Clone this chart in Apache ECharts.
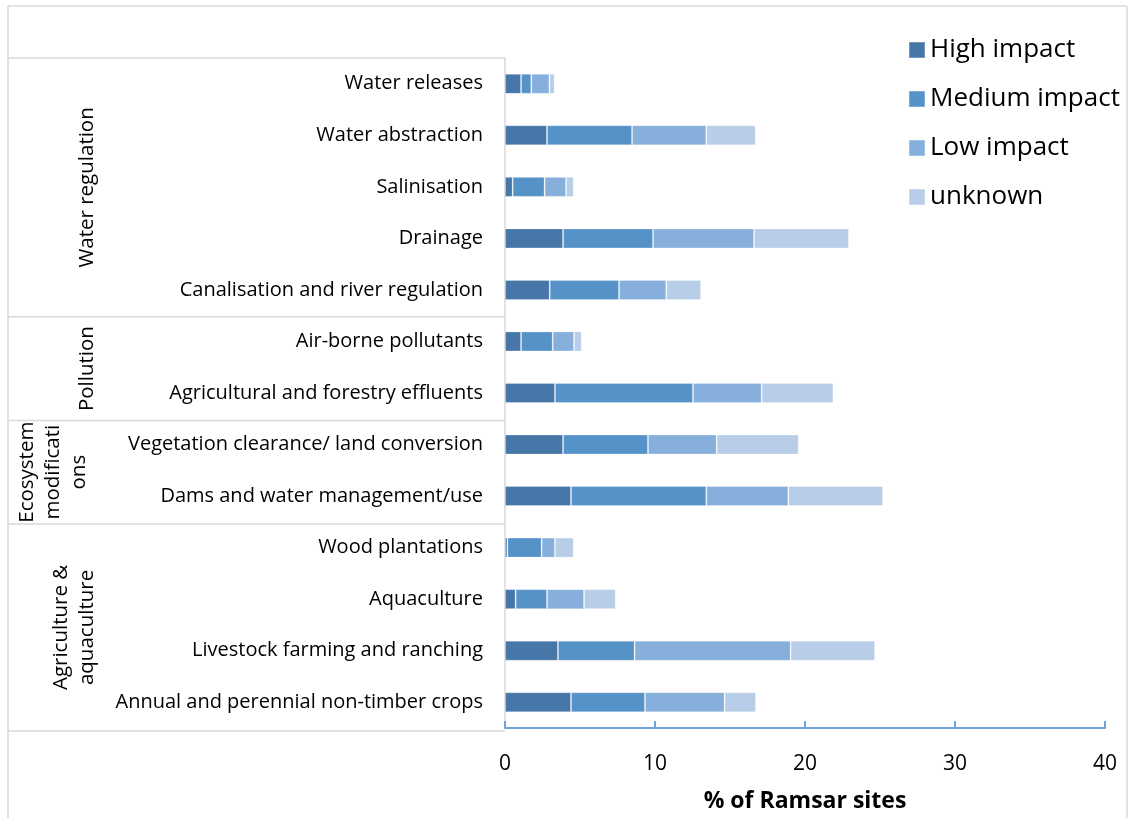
<!DOCTYPE html>
<html>
<head>
<meta charset="utf-8">
<script src="https://cdn.jsdelivr.net/npm/echarts@6/dist/echarts.min.js"></script>
<style>
html,body{margin:0;padding:0;background:#fff;}
#chart{width:1128px;height:818px;}
</style>
</head>
<body>
<div id="chart"></div>
<script>
// Categories, top to bottom
const categories = [
  'Water releases',
  'Water abstraction',
  'Salinisation',
  'Drainage',
  'Canalisation and river regulation',
  'Air-borne pollutants',
  'Agricultural and forestry effluents',
  'Vegetation clearance/ land conversion',
  'Dams and water management/use',
  'Wood plantations',
  'Aquaculture',
  'Livestock farming and ranching',
  'Annual and perennial non-timber crops'
];
const seriesNames = ['High impact', 'Medium impact', 'Low impact', 'unknown'];
const highImpact   = [1.07, 2.8, 0.51, 3.87, 2.98, 1.07, 3.33, 3.87, 4.4, 0.16, 0.71, 3.53, 4.4];
const mediumImpact = [0.68, 5.67, 2.13, 6.0, 4.62, 2.11, 9.2, 5.66, 9.02, 2.28, 2.09, 5.11, 4.93];
const lowImpact    = [1.21, 4.95, 1.43, 6.73, 3.15, 1.42, 4.58, 4.58, 5.47, 0.89, 2.47, 10.4, 5.31];
const unknownImpact= [0.35, 3.29, 0.51, 6.33, 2.32, 0.51, 4.78, 5.47, 6.31, 1.25, 2.11, 5.63, 2.09];
// Groups (top to bottom) with number of categories each
const groupNames = ['Water regulation', 'Pollution', 'Ecosystem\nmodificati\nons', 'Agriculture &\naquaculture'];
const groupSizes = [5, 2, 2, 4];
const xTicks = [0, 10, 20, 30, 40];
const xAxisTitle = '% of Ramsar sites';

const colors = ['#4677a8', '#5592c8', '#86afdc', '#b8cde8'];
const FONT = '"Open Sans", "Noto Sans", sans-serif';

const chart = echarts.init(document.getElementById('chart'));
const gridTop = 58, gridBottom = 87, gridLeft = 505, gridRight = 23;
const H = 818, plotH = H - gridTop - gridBottom;
const band = plotH / categories.length;

const seriesData = [highImpact, mediumImpact, lowImpact, unknownImpact];
const series = seriesNames.map((n, i) => ({
  name: n,
  type: 'bar',
  stack: 'total',
  barWidth: 20,
  itemStyle: { color: colors[i], borderColor: 'rgba(255,255,255,0.25)', borderWidth: 1 },
  data: seriesData[i]
}));

// table lines and group labels
const graphics = [];
const lineStyle = { stroke: '#d9d9d9', lineWidth: 1.5 };
graphics.push({ type: 'line', shape: { x1: 8, y1: 6, x2: 1127, y2: 6 }, style: lineStyle, silent: true });
graphics.push({ type: 'line', shape: { x1: 8, y1: 6, x2: 8, y2: 818 }, style: lineStyle, silent: true });
graphics.push({ type: 'line', shape: { x1: 1127, y1: 6, x2: 1127, y2: 818 }, style: lineStyle, silent: true });
graphics.push({ type: 'line', shape: { x1: 8, y1: gridTop, x2: gridLeft, y2: gridTop }, style: lineStyle, silent: true });
let acc = 0;
const labelX = [87, 87, 53, 74];
groupSizes.forEach((s, gi) => {
  const y0 = gridTop + acc * band;
  acc += s;
  const y1 = gridTop + acc * band;
  graphics.push({ type: 'line', shape: { x1: 8, y1: y1, x2: gridLeft, y2: y1 }, style: lineStyle, silent: true });
  graphics.push({
    type: 'text', x: labelX[gi], y: (y0 + y1) / 2, rotation: Math.PI / 2, silent: true,
    style: { text: groupNames[gi], font: '20.5px ' + FONT, fill: '#000', align: 'center', verticalAlign: 'middle', lineHeight: 26 }
  });
});

chart.setOption({
  animation: false,
  backgroundColor: '#fff',
  color: colors,
  grid: { left: gridLeft, right: gridRight, top: gridTop, bottom: gridBottom, containLabel: false },
  legend: {
    orient: 'vertical', left: 903, top: 32,
    itemWidth: 16, itemHeight: 16, itemGap: 23,
    icon: 'rect',
    textStyle: { fontSize: 26, fontFamily: FONT, color: '#000' },
    data: seriesNames
  },
  xAxis: {
    type: 'value', min: 0, max: 40, interval: 10,
    name: xAxisTitle, nameLocation: 'middle', nameGap: 62,
    nameTextStyle: { fontSize: 23, fontWeight: 'bold', fontFamily: FONT, color: '#000' },
    axisLine: { show: true, lineStyle: { color: '#6fa3da', width: 2 } },
    axisTick: { show: true, inside: true, length: 7, lineStyle: { color: '#6fa3da', width: 2 } },
    axisLabel: { fontSize: 21, fontFamily: FONT, color: '#000', margin: 26,
      formatter: v => xTicks.includes(v) ? String(v) : '' },
    splitLine: { show: false }
  },
  yAxis: {
    type: 'category', inverse: true, data: categories,
    axisLine: { show: true, lineStyle: { color: '#d9d9d9', width: 1.5 } },
    axisTick: { show: false },
    axisLabel: { fontSize: 20, fontFamily: FONT, color: '#000', margin: 22, padding: [4, 0, 0, 0] }
  },
  graphic: graphics,
  series: series
});
</script>
</body>
</html>
